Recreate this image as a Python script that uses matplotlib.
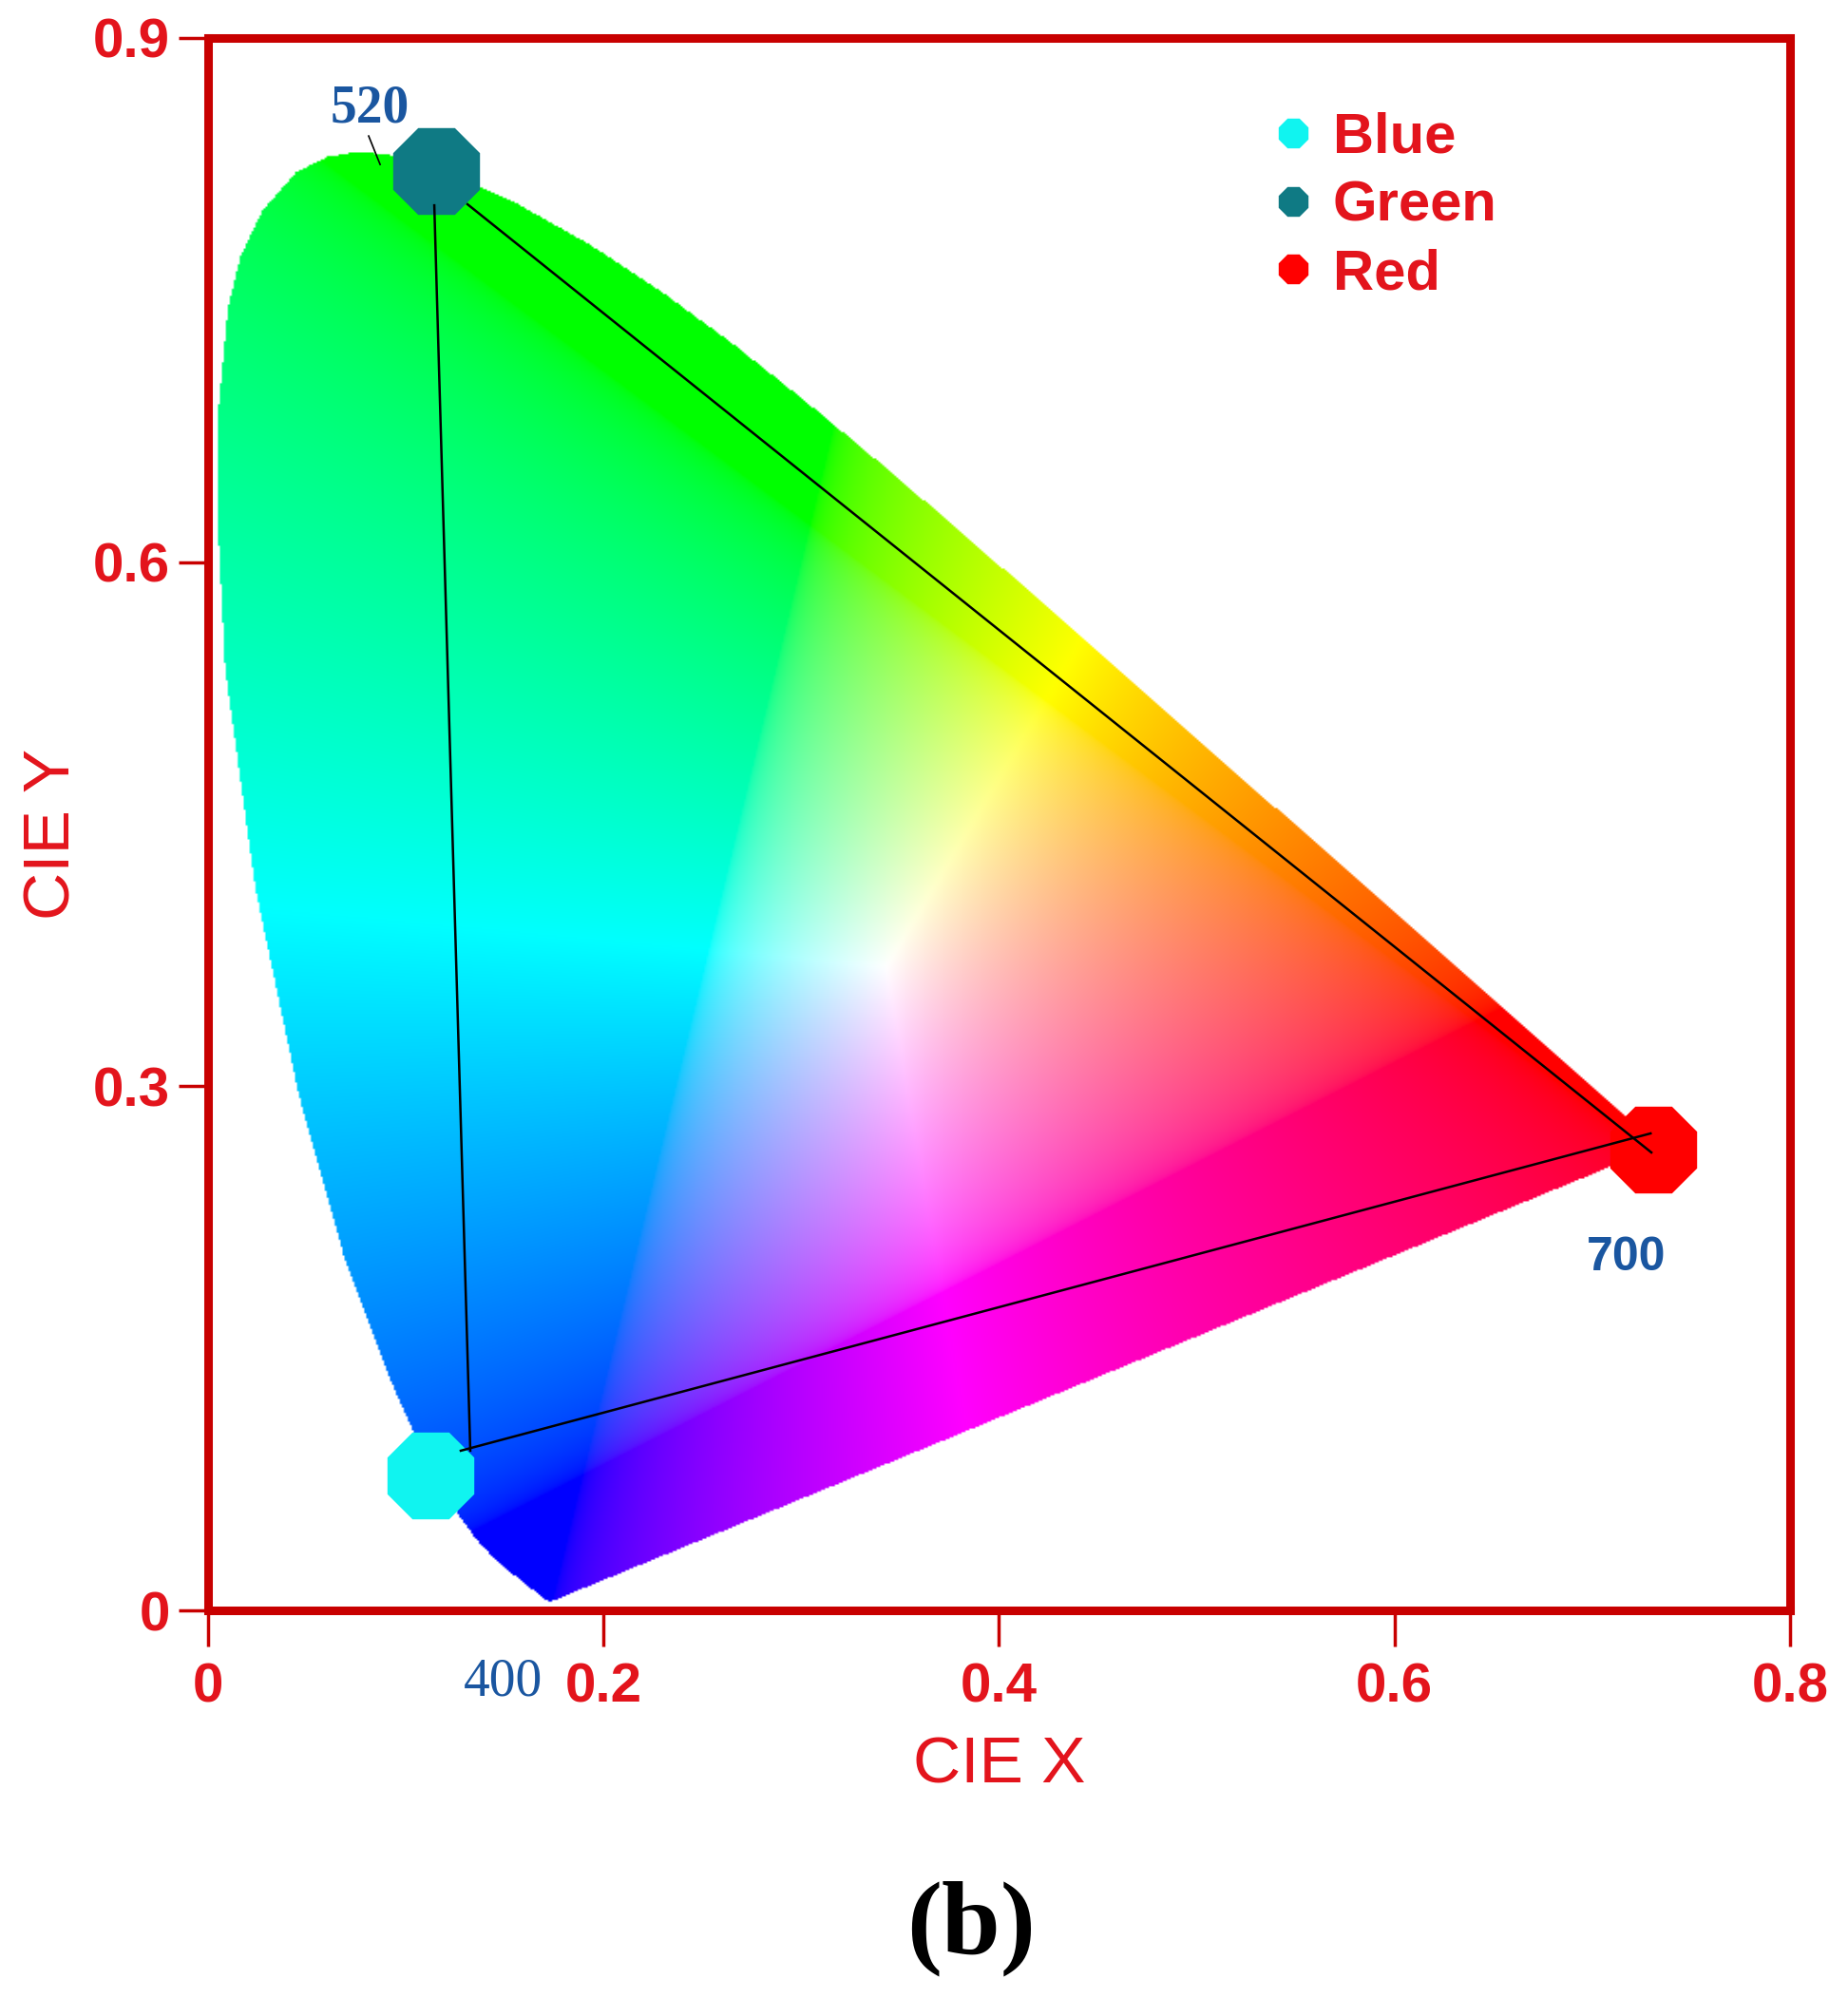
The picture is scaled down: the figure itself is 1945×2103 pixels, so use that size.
import numpy as np
import matplotlib
matplotlib.use("Agg")
import matplotlib.pyplot as plt
from matplotlib.path import Path
from matplotlib.lines import Line2D

# spectral locus, read along the edge of the coloured area (380 nm -> 700 nm)
locus_x = [0.1741, 0.1733, 0.1714, 0.1689, 0.1644, 0.1566, 0.1440, 0.1355, 0.1241, 0.1096,
           0.0913, 0.0687, 0.0454, 0.0235, 0.0082, 0.0045, 0.0050, 0.0096, 0.0160, 0.0270,
           0.0440, 0.0600, 0.0743, 0.0900, 0.1142, 0.1547, 0.1929, 0.2296, 0.2658, 0.3016,
           0.3373, 0.3731, 0.4087, 0.4441, 0.4788, 0.5125, 0.5448, 0.5752, 0.6029, 0.6270,
           0.6482, 0.6658, 0.6915, 0.7079, 0.7190, 0.7260, 0.7300, 0.7334, 0.7347]
locus_y = [0.0050, 0.0048, 0.0051, 0.0069, 0.0109, 0.0177, 0.0297, 0.0399, 0.0578, 0.0868,
           0.1327, 0.2007, 0.2950, 0.4127, 0.5384, 0.6200, 0.6900, 0.7455, 0.7750, 0.8010,
           0.8230, 0.8320, 0.8345, 0.8335, 0.8262, 0.8059, 0.7816, 0.7543, 0.7243, 0.6923,
           0.6589, 0.6245, 0.5896, 0.5547, 0.5202, 0.4866, 0.4544, 0.4242, 0.3965, 0.3725,
           0.3514, 0.3340, 0.3083, 0.2920, 0.2809, 0.2740, 0.2700, 0.2666, 0.2653]
white_x, white_y = 0.343, 0.368

# emitter coordinates
names = ["Blue", "Green", "Red"]
cie_x = [0.1124, 0.1153, 0.7309]
cie_y = [0.0772, 0.8238, 0.2637]
marker_colors = ["#10f4f0", "#0f7a84", "#ff0000"]

# triangle sides (start, end)
side_x = [[0.1144, 0.1326], [0.1312, 0.7299], [0.1278, 0.7295]]
side_y = [[0.8042, 0.0914], [0.8048, 0.2621], [0.0914, 0.2730]]

RED = "#e3141c"
AXRED = "#c80000"
BLUE_TXT = "#1a56a0"

fig = plt.figure(figsize=(19.45, 21.03), dpi=100)
ax = fig.add_axes([0.1126, 0.1940, 0.8560, 0.7870])
ax.set_xlim(0, 0.8)
ax.set_ylim(0, 0.9)

# colour fill of the horseshoe
nx, ny = 800, 900
gx, gy = np.meshgrid(np.linspace(0, 0.8, nx), np.linspace(0, 0.9, ny))
yy = np.maximum(gy, 1e-4)
X = gx / yy
Z = (1 - gx - gy) / yy
# adapt so the white spot sits where the picture has it
X = X * 0.9505 / (white_x / white_y)
Z = Z * 1.0890 / ((1 - white_x - white_y) / white_y)
M = np.array([[3.2406, -1.5372, -0.4986],
              [-0.9689, 1.8758, 0.0415],
              [0.0557, -0.2040, 1.0570]])
rgb = np.stack([M[i, 0] * X + M[i, 1] + M[i, 2] * Z for i in range(3)], axis=-1)
rgb = np.clip(rgb, 0, None)
rgb /= np.maximum(rgb.max(axis=-1, keepdims=True), 1e-9)
rgb = rgb ** (1 / 2.2)
poly = Path(np.column_stack([locus_x + [locus_x[0]], locus_y + [locus_y[0]]]))
inside = poly.contains_points(np.column_stack([gx.ravel(), gy.ravel()])).reshape(gx.shape)
rgba = np.dstack([rgb, inside.astype(float)])
ax.imshow(rgba, origin="lower", extent=[0, 0.8, 0, 0.9], aspect="auto",
          interpolation="bilinear", zorder=1)

for px, py, c in zip(cie_x, cie_y, marker_colors):
    ax.plot(px, py, marker="8", ms=70, color=c, ls="none", zorder=3)

for sx, sy in zip(side_x, side_y):
    ax.plot(sx, sy, color="black", lw=1.8, zorder=4)

# wavelength marks
ax.plot([0.0812, 0.0870], [0.8439, 0.8276], color="black", lw=1.2, zorder=4)
ax.text(0.0817, 0.8592, "520", color=BLUE_TXT, fontsize=40, fontweight="bold",
        family="Liberation Serif", ha="center", va="center", zorder=5)
ax.text(0.7174, 0.2017, "700", color=BLUE_TXT, fontsize=36, fontweight="bold",
        family="Liberation Sans", ha="center", va="center", zorder=5)
ax.text(0.1494, -0.0408, "400", color=BLUE_TXT, fontsize=40,
        family="Liberation Serif", ha="center", va="center", zorder=5)

# axes styling
for s in ax.spines.values():
    s.set_color(AXRED)
    s.set_linewidth(6.5)
    s.set_zorder(2)
ax.set_xticks([0, 0.2, 0.4, 0.6, 0.8])
ax.set_xticklabels(["0", "0.2", "0.4", "0.6", "0.8"])
ax.set_yticks([0, 0.3, 0.6, 0.9])
ax.set_yticklabels(["0", "0.3", "0.6", "0.9"])
ax.tick_params(axis="x", direction="out", length=27, width=2.5, color=AXRED, pad=12)
ax.tick_params(axis="y", direction="out", length=22, width=2.5, color=AXRED, pad=7)
for lab in ax.get_xticklabels() + ax.get_yticklabels():
    lab.set_color(RED)
    lab.set_fontsize(42)
    lab.set_fontweight("bold")
    lab.set_family("Liberation Sans")

ax.set_xlabel("CIE X", color=RED, fontsize=50, family="Liberation Sans")
ax.xaxis.set_label_coords(0.5, -0.0985)
ax.xaxis.label.set_va("center")
ax.set_ylabel("CIE Y", color=RED, fontsize=50, family="Liberation Sans")
ax.yaxis.set_label_coords(-0.0985, 0.4937)
ax.yaxis.label.set_va("center")

handles = [Line2D([], [], marker="8", ms=24, color=c, ls="none") for c in marker_colors]
leg = ax.legend(handles, names, loc="upper left", bbox_to_anchor=(0.6715, 0.953),
                frameon=False, borderpad=0, borderaxespad=0, handlelength=0.8,
                handletextpad=0.3, labelspacing=0.28,
                prop={"family": "Liberation Sans", "weight": "bold", "size": 43})
for t in leg.get_texts():
    t.set_color(RED)

fig.text(1022 / 1945, 1 - 2030 / 2103, "(b)", ha="center", va="center", fontsize=80,
         fontweight="bold", family="Liberation Serif", color="black")

fig.savefig("out.png", dpi=100)
